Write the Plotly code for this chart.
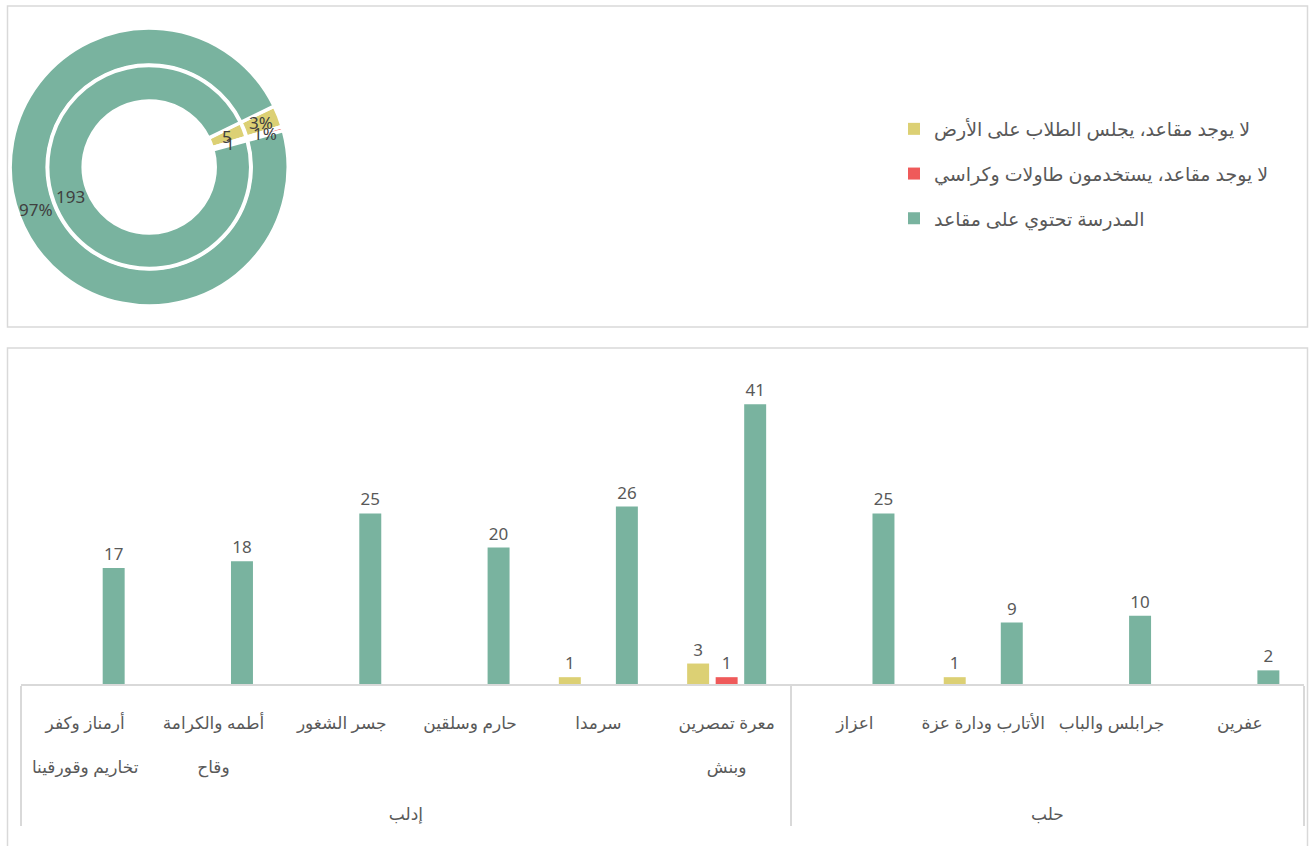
import math
import plotly.graph_objects as go

W, H = 1309, 846

# ---------------- data ----------------
series_names = [
    "لا يوجد مقاعد، يجلس الطلاب على الأرض",
    "لا يوجد مقاعد، يستخدمون طاولات وكراسي",
    "المدرسة تحتوي على مقاعد",
]
colors = ["#DCD074", "#EF5A5A", "#79B39F"]

governorates = ["حلب", "حلب", "حلب", "حلب",
                "إدلب", "إدلب", "إدلب", "إدلب", "إدلب", "إدلب"]
districts = [
    "عفرين",
    "جرابلس والباب",
    "الأتارب ودارة عزة",
    "اعزاز",
    "معرة تمصرين<br>وبنش",
    "سرمدا",
    "حارم وسلقين",
    "جسر الشغور",
    "أطمه والكرامة<br>وقاح",
    "أرمناز وكفر<br>تخاريم وقورقينا",
]
floor_vals = [0, 0, 1, 0, 3, 1, 0, 0, 0, 0]
tables_vals = [0, 0, 0, 0, 1, 0, 0, 0, 0, 0]
seats_vals = [2, 10, 9, 25, 41, 26, 20, 25, 18, 17]

donut_counts = [5, 1, 193]

# ---------------- styling ----------------
FONT = "Noto Sans, DejaVu Sans, sans-serif"
GREY = "#595959"
DARK = "#404040"
BORDER = "#D9D9D9"


def spaced(label):
    """Wide line spacing like the original: blank line above, between and below."""
    body = label.replace("<br>", "<br> <br>")
    tail = "<br> " if "<br>" in label else ""
    return " <br>" + body + tail


fig = go.Figure()

# donut geometry (pixels)
cx, cy = 149.2, 167.0
rotation = 64
LW = 3.5


def dom(r):
    return dict(x=[(cx - r) / W, (cx + r) / W],
                y=[(H - cy - r) / H, (H - cy + r) / H])


outer_r, outer_in = 139.0, 102.0
inner_r, inner_in = 101.5, 66.0

fig.add_trace(go.Pie(
    values=donut_counts, labels=series_names, sort=False, direction="clockwise",
    rotation=rotation, hole=outer_in / outer_r, domain=dom(outer_r),
    marker=dict(colors=colors, line=dict(color="white", width=LW)),
    textinfo="none", showlegend=False, hoverinfo="label+percent",
))
fig.add_trace(go.Pie(
    values=donut_counts, labels=series_names, sort=False, direction="clockwise",
    rotation=rotation, hole=inner_in / inner_r, domain=dom(inner_r),
    marker=dict(colors=colors, line=dict(color="white", width=LW)),
    textinfo="none", showlegend=False, hoverinfo="label+value",
))

annotations = []
total = sum(donut_counts)
cum = 0
r_outer_mid = (103.5 + 137.5) / 2
r_inner_mid = (67.5 + 100) / 2
for v in donut_counts:
    ang = math.radians(rotation + 360 * (cum + v / 2) / total)
    for rm, txt in [(r_outer_mid, f"{round(100 * v / total)}%"), (r_inner_mid, str(v))]:
        px = cx + rm * math.sin(ang)
        py = cy - rm * math.cos(ang)
        annotations.append(dict(
            x=px / W, y=1 - py / H, xref="paper", yref="paper", text=txt,
            showarrow=False, font=dict(family=FONT, size=17, color=DARK),
            xanchor="center", yanchor="middle",
        ))
    cum += v

# bars (added green first so that, on the right-to-left axis, yellow sits on the left)
xcats = [governorates, [spaced(d) for d in districts]]
bar_series = list(zip(series_names, [floor_vals, tables_vals, seats_vals], colors, [1, 2, 3]))
for name, vals, col, rank in reversed(bar_series):
    fig.add_trace(go.Bar(
        x=xcats, y=vals, name=name, marker=dict(color=col, line=dict(width=0)),
        text=[str(v) if v else "" for v in vals], textposition="outside",
        textfont=dict(family=FONT, size=17, color=GREY), cliponaxis=False,
        legendgroup=name, legendrank=rank,
    ))

shapes = [
    dict(type="rect", xref="paper", yref="paper",
         x0=7.5 / W, x1=1307.5 / W, y0=1 - 327 / H, y1=1 - 6 / H,
         line=dict(color=BORDER, width=1.5), fillcolor="rgba(0,0,0,0)", layer="below"),
    dict(type="rect", xref="paper", yref="paper",
         x0=7.5 / W, x1=1307.5 / W, y0=1 - 870 / H, y1=1 - 348 / H,
         line=dict(color=BORDER, width=1.5), fillcolor="rgba(0,0,0,0)", layer="below"),
]

fig.update_layout(
    width=W, height=H, autosize=False, margin=dict(l=0, r=0, t=0, b=0),
    paper_bgcolor="white", plot_bgcolor="white",
    font=dict(family=FONT, size=17, color=GREY),
    barmode="group", bargap=0.333, bargroupgap=0.23,
    showlegend=True,
    legend=dict(x=894 / W, y=1 - 110 / H, xanchor="left", yanchor="top",
                font=dict(family=FONT, size=19, color=GREY),
                traceorder="grouped", tracegroupgap=17, bgcolor="rgba(0,0,0,0)"),
    xaxis=dict(type="multicategory", domain=[21 / W, 1304 / W], autorange="reversed",
               showline=True, linecolor=BORDER, linewidth=2, ticks="", tickangle=0,
               showdividers=True, dividercolor=BORDER, dividerwidth=1.5,
               tickfont=dict(family=FONT, size=17, color=GREY), showgrid=False),
    yaxis=dict(domain=[162 / H, 469 / H], range=[0, 45], visible=False,
               showgrid=False, zeroline=False),
    shapes=shapes, annotations=annotations,
)

fig.write_html("out.html",
               config={"displayModeBar": False, "responsive": False},
               post_script="document.body.style.margin='0';document.body.style.overflow='hidden';")
